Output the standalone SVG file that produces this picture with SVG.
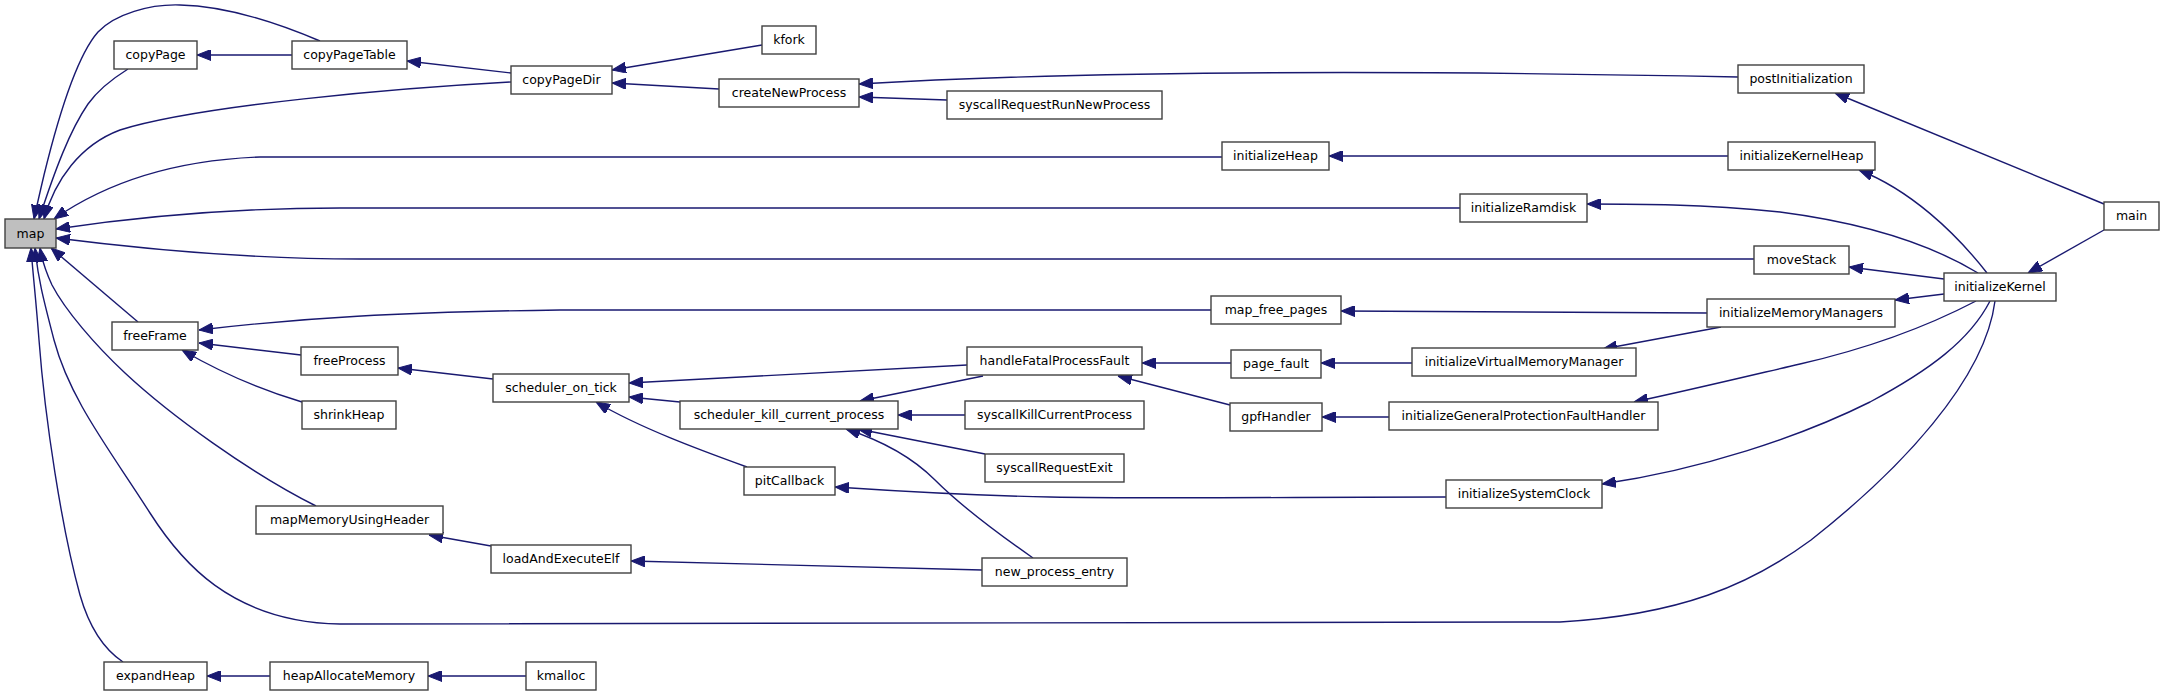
<svg xmlns="http://www.w3.org/2000/svg" width="2165" height="696" viewBox="0 0 2165 696">
<style>
.n rect{fill:#ffffff;stroke:#404040;stroke-width:1.4}
.n text{font-family:"DejaVu Sans",sans-serif;font-size:12.5px;text-anchor:middle;fill:#000000}
#n_map rect{fill:#bfbfbf}
.e path{fill:none;stroke:#191970;stroke-width:1.4;marker-end:url(#ah)}
</style>
<defs>
<marker id="ah" viewBox="0 0 14 11" refX="14" refY="5.5" markerWidth="14" markerHeight="11" markerUnits="userSpaceOnUse" orient="auto">
<path d="M0,0 L14,5.5 L0,11 z" fill="#191970" stroke="#191970" stroke-width="1"/>
</marker>
</defs>
<rect width="2165" height="696" fill="#ffffff"/>
<g id="edges" class="e">
<path d="M320,41 C280,24 230,6 180,5 C150,4 115,14 98,32 C75,58 55,130 44,175 C40,192 37,205 34,219"/>
<path d="M128,69 C112,79 98,90 88,104 C70,130 55,170 39,219"/>
<path d="M511,82 C400,88 200,105 120,130 C80,145 55,180 44,219"/>
<path d="M1222,157 L260,157 C180,160 110,180 54,219"/>
<path d="M1460,208 L340,208 C250,208 150,215 56,229"/>
<path d="M1754,259 L360,259 C260,259 150,250 56,238"/>
<path d="M138,322 L51,248"/>
<path d="M1211,310 L560,310 C400,312 300,318 199,330"/>
<path d="M316,506 C250,473 170,415 125,373 C95,345 65,310 52,285 C45,270 42,260 40,248"/>
<path d="M1995,301 C1985,380 1900,470 1811,540 C1750,585 1680,615 1560,622 L340,624 C230,622 180,560 150,513 C110,450 70,400 54,340 C45,305 38,280 35,248"/>
<path d="M123,662 C105,650 90,630 80,595 C62,530 45,420 39,340 C36,300 33,275 31,248"/>
<path d="M762,45 L612,70"/>
<path d="M719,89 L612,83"/>
<path d="M511,73 L407,61"/>
<path d="M292,55 L197,55"/>
<path d="M1738,77 C1400,70 1100,70 859,84"/>
<path d="M947,100 L859,97"/>
<path d="M1728,156 L1329,156"/>
<path d="M1978,273 C1940,250 1880,225 1780,212 C1700,204 1640,204 1587,204"/>
<path d="M1987,273 C1955,232 1910,190 1859,170"/>
<path d="M1944,279 L1849,267"/>
<path d="M1944,294 L1895,300"/>
<path d="M2104,230 L2028,273"/>
<path d="M2104,204 L1835,93"/>
<path d="M1707,313 L1341,311"/>
<path d="M1721,327 L1603,349"/>
<path d="M1976,301 C1930,325 1870,348 1800,364 C1740,378 1690,390 1634,402"/>
<path d="M1990,301 C1970,340 1930,370 1870,402 C1800,437 1700,470 1602,484"/>
<path d="M493,379 L398,368"/>
<path d="M301,355 L199,343"/>
<path d="M302,402 C265,391 225,375 182,350"/>
<path d="M967,365 L629,383"/>
<path d="M680,402 L629,397"/>
<path d="M747,467 C700,450 640,428 596,402"/>
<path d="M983,376 L860,401"/>
<path d="M965,415 L898,415"/>
<path d="M985,454 L858,429"/>
<path d="M1033,558 C1000,535 960,505 935,480 C910,455 880,440 846,429"/>
<path d="M1446,497 C1300,497 1150,499 1050,497 C950,495 880,490 835,487"/>
<path d="M982,570 L631,561"/>
<path d="M491,546 L429,535"/>
<path d="M270,676 L207,676"/>
<path d="M526,676 L428,676"/>
<path d="M1231,363 L1142,363"/>
<path d="M1230,405 L1118,376"/>
<path d="M1412,363 L1321,363"/>
<path d="M1389,417 L1322,417"/>
</g>
<g id="n_map" class="n"><rect x="5" y="219" width="51" height="29"/><text x="30.5" y="237.5">map</text></g>
<g id="n_copyPage" class="n"><rect x="114" y="41" width="83" height="28"/><text x="155.5" y="59">copyPage</text></g>
<g id="n_copyPageTable" class="n"><rect x="292" y="41" width="115" height="28"/><text x="349.5" y="59">copyPageTable</text></g>
<g id="n_copyPageDir" class="n"><rect x="511" y="66" width="101" height="28"/><text x="561.5" y="84">copyPageDir</text></g>
<g id="n_kfork" class="n"><rect x="762" y="26" width="54" height="28"/><text x="789" y="44">kfork</text></g>
<g id="n_createNewProcess" class="n"><rect x="719" y="79" width="140" height="28"/><text x="789" y="97">createNewProcess</text></g>
<g id="n_syscallRequestRunNewProcess" class="n"><rect x="947" y="91" width="215" height="28"/><text x="1054.5" y="109">syscallRequestRunNewProcess</text></g>
<g id="n_postInitialization" class="n"><rect x="1738" y="65" width="126" height="28"/><text x="1801" y="83">postInitialization</text></g>
<g id="n_initializeHeap" class="n"><rect x="1222" y="142" width="107" height="28"/><text x="1275.5" y="160">initializeHeap</text></g>
<g id="n_initializeKernelHeap" class="n"><rect x="1728" y="142" width="147" height="28"/><text x="1801.5" y="160">initializeKernelHeap</text></g>
<g id="n_initializeRamdisk" class="n"><rect x="1460" y="194" width="127" height="28"/><text x="1523.5" y="212">initializeRamdisk</text></g>
<g id="n_main" class="n"><rect x="2104" y="202" width="55" height="28"/><text x="2131.5" y="220">main</text></g>
<g id="n_moveStack" class="n"><rect x="1754" y="246" width="95" height="28"/><text x="1801.5" y="264">moveStack</text></g>
<g id="n_initializeKernel" class="n"><rect x="1944" y="273" width="112" height="28"/><text x="2000" y="291">initializeKernel</text></g>
<g id="n_map_free_pages" class="n"><rect x="1211" y="296" width="130" height="28"/><text x="1276" y="314">map_free_pages</text></g>
<g id="n_initializeMemoryManagers" class="n"><rect x="1707" y="299" width="188" height="28"/><text x="1801" y="317">initializeMemoryManagers</text></g>
<g id="n_freeFrame" class="n"><rect x="112" y="322" width="86" height="28"/><text x="155" y="340">freeFrame</text></g>
<g id="n_freeProcess" class="n"><rect x="301" y="347" width="97" height="28"/><text x="349.5" y="365">freeProcess</text></g>
<g id="n_handleFatalProcessFault" class="n"><rect x="967" y="347" width="175" height="28"/><text x="1054.5" y="365">handleFatalProcessFault</text></g>
<g id="n_page_fault" class="n"><rect x="1231" y="350" width="90" height="28"/><text x="1276" y="368">page_fault</text></g>
<g id="n_initializeVirtualMemoryManager" class="n"><rect x="1412" y="348" width="224" height="28"/><text x="1524" y="366">initializeVirtualMemoryManager</text></g>
<g id="n_scheduler_on_tick" class="n"><rect x="493" y="374" width="136" height="28"/><text x="561" y="392">scheduler_on_tick</text></g>
<g id="n_shrinkHeap" class="n"><rect x="302" y="401" width="94" height="28"/><text x="349" y="419">shrinkHeap</text></g>
<g id="n_scheduler_kill_current_process" class="n"><rect x="680" y="401" width="218" height="28"/><text x="789" y="419">scheduler_kill_current_process</text></g>
<g id="n_syscallKillCurrentProcess" class="n"><rect x="965" y="401" width="179" height="28"/><text x="1054.5" y="419">syscallKillCurrentProcess</text></g>
<g id="n_gpfHandler" class="n"><rect x="1230" y="403" width="92" height="28"/><text x="1276" y="421">gpfHandler</text></g>
<g id="n_initializeGeneralProtectionFaultHandler" class="n"><rect x="1389" y="402" width="269" height="28"/><text x="1523.5" y="420">initializeGeneralProtectionFaultHandler</text></g>
<g id="n_syscallRequestExit" class="n"><rect x="985" y="454" width="139" height="28"/><text x="1054.5" y="472">syscallRequestExit</text></g>
<g id="n_pitCallback" class="n"><rect x="744" y="467" width="91" height="28"/><text x="789.5" y="485">pitCallback</text></g>
<g id="n_initializeSystemClock" class="n"><rect x="1446" y="480" width="156" height="28"/><text x="1524" y="498">initializeSystemClock</text></g>
<g id="n_mapMemoryUsingHeader" class="n"><rect x="256" y="506" width="187" height="28"/><text x="349.5" y="524">mapMemoryUsingHeader</text></g>
<g id="n_loadAndExecuteElf" class="n"><rect x="491" y="545" width="140" height="28"/><text x="561" y="563">loadAndExecuteElf</text></g>
<g id="n_new_process_entry" class="n"><rect x="982" y="558" width="145" height="28"/><text x="1054.5" y="576">new_process_entry</text></g>
<g id="n_expandHeap" class="n"><rect x="104" y="662" width="103" height="28"/><text x="155.5" y="680">expandHeap</text></g>
<g id="n_heapAllocateMemory" class="n"><rect x="270" y="662" width="158" height="28"/><text x="349" y="680">heapAllocateMemory</text></g>
<g id="n_kmalloc" class="n"><rect x="526" y="662" width="70" height="28"/><text x="561" y="680">kmalloc</text></g>
</svg>
